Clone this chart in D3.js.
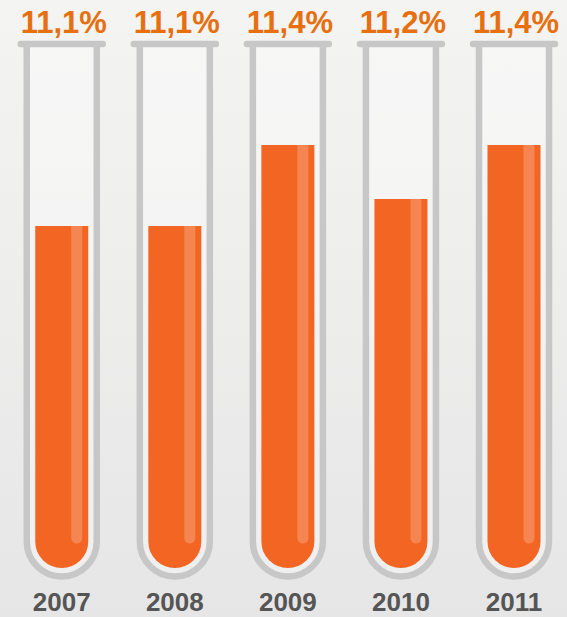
<!DOCTYPE html>
<html>
<head>
  <meta charset="utf-8">
  <title>Test tubes</title>
  <script src="https://cdnjs.cloudflare.com/ajax/libs/d3/7.8.5/d3.min.js"></script>
  <style>
    html, body { margin: 0; padding: 0; }
    svg { display: block; }
  </style>
</head>
<body>
  <svg id="chart"></svg>
  <script>
    // values
    const years = ['2007', '2008', '2009', '2010', '2011']
    const values = [11.1, 11.1, 11.4, 11.2, 11.4]
    const labels = ['11,1%', '11,1%', '11,4%', '11,2%', '11,4%']

    const width = 567
    const height = 617

    const tubeW = 70      // stroke centre to stroke centre
    const wall = 6.5
    const rimY = 44
    const tubeBottom = 576.5  // lowest point of the stroke centre line
    const liquidW = 53
    const liquidBottom = 568

    const svg = d3.select('#chart').attr('width', width).attr('height', height)

    const defs = svg.append('defs')
    const bg = defs.append('linearGradient').attr('id', 'bg')
      .attr('x1', 0).attr('y1', 0).attr('x2', 0).attr('y2', 1)
    bg.append('stop').attr('offset', 0).attr('stop-color', '#f4f4f3')
    bg.append('stop').attr('offset', 1).attr('stop-color', '#e6e6e6')

    svg.append('rect').attr('width', width).attr('height', height).attr('fill', 'url(#bg)')

    const x = d3.scalePoint().domain(years).range([61.75, 514])
    // liquid level: 11.1 -> y 225, 11.4 -> y 145
    const y = d3.scaleLinear().domain([11.1, 11.4]).range([226, 145])

    // U shaped path: top-left, down, half circle, up to top-right
    const uPath = (cx, top, w, bottom) => {
      const r = w / 2
      const p = d3.path()
      p.moveTo(cx - r, top)
      p.lineTo(cx - r, bottom - r)
      p.arc(cx, bottom - r, r, Math.PI, 0, true)
      p.lineTo(cx + r, top)
      return p.toString()
    }

    const g = svg.selectAll('g.tube').data(years).join('g').attr('class', 'tube')

    // glass inside
    g.append('path')
      .attr('d', d => uPath(x(d), rimY, tubeW, tubeBottom) + 'Z')
      .attr('fill', '#ffffff').attr('fill-opacity', 0.35)

    // liquid
    g.append('path')
      .attr('d', (d, i) => uPath(x(d), y(values[i]), liquidW, liquidBottom) + 'Z')
      .attr('fill', '#f26522')

    // highlight stripe
    g.append('path')
      .attr('d', (d, i) => {
        const cx = x(d) + 15
        const p = d3.path()
        p.moveTo(cx - 5.5, y(values[i]))
        p.lineTo(cx - 5.5, 538)
        p.arc(cx, 538, 5.5, Math.PI, 0, true)
        p.lineTo(cx + 5.5, y(values[i]))
        p.closePath()
        return p.toString()
      })
      .attr('fill', '#ffffff').attr('fill-opacity', 0.22)

    // glass wall
    g.append('path')
      .attr('d', d => uPath(x(d), rimY, tubeW, tubeBottom))
      .attr('fill', 'none').attr('stroke', '#c7c7c7').attr('stroke-width', wall)

    // rim
    g.append('line')
      .attr('x1', d => x(d) - 41).attr('x2', d => x(d) + 41)
      .attr('y1', rimY).attr('y2', rimY)
      .attr('stroke', '#c7c7c7').attr('stroke-width', 6.5).attr('stroke-linecap', 'round')

    // percentage labels
    g.append('text')
      .attr('x', d => x(d) + 2).attr('y', 33)
      .attr('text-anchor', 'middle')
      .attr('font-family', 'Liberation Sans, Arial, sans-serif')
      .attr('font-weight', 'bold').attr('font-size', 31)
      .attr('fill', '#e6700f')
      .text((d, i) => labels[i])

    // year labels
    g.append('text')
      .attr('x', d => x(d)).attr('y', 611)
      .attr('text-anchor', 'middle')
      .attr('font-family', 'Liberation Sans, Arial, sans-serif')
      .attr('font-weight', 'bold').attr('font-size', 26)
      .attr('fill', '#555555')
      .text(d => d)
  </script>
</body>
</html>
